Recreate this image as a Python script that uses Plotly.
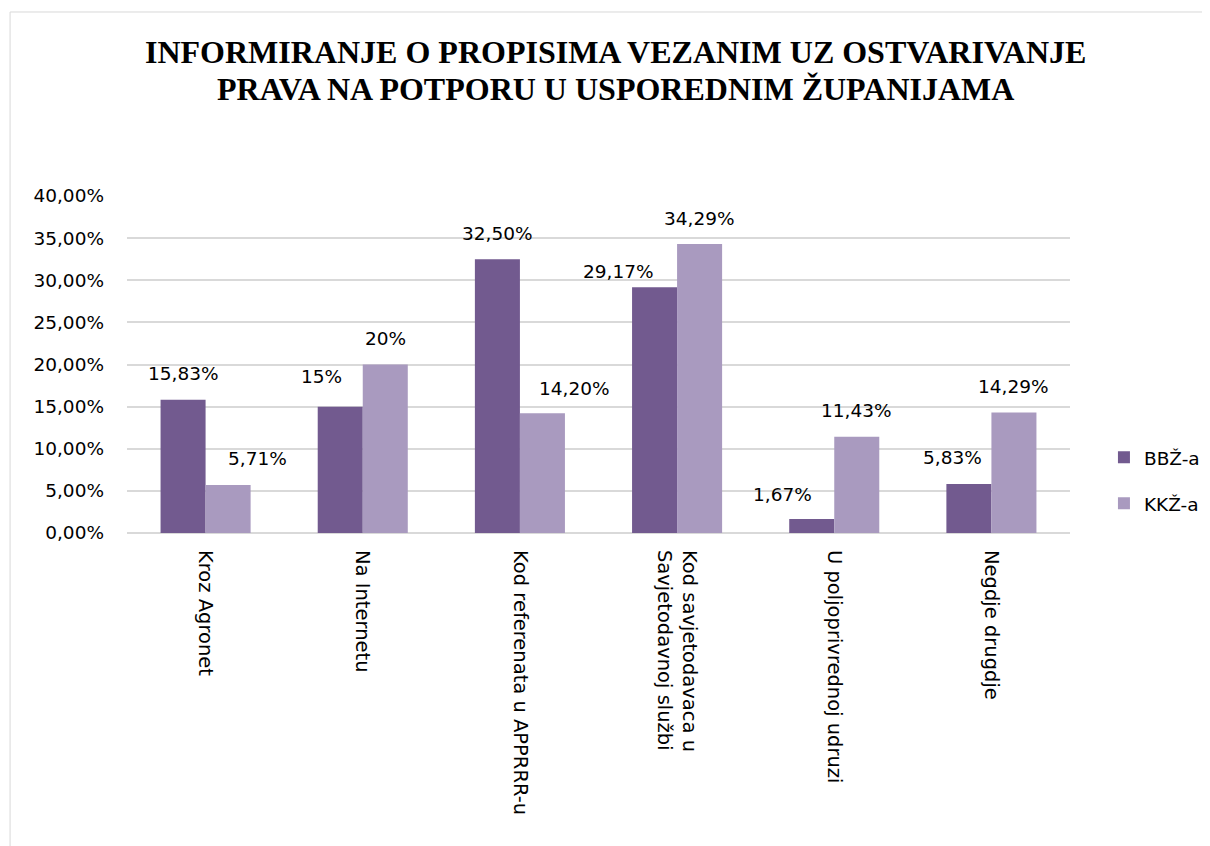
import plotly.graph_objects as go

categories = ["Kroz Agronet", "Na Internetu", "Kod referenata u APPRRR-u",
              "Kod savjetodavaca u<br>Savjetodavnoj službi",
              "U poljoprivrednoj udruzi", "Negdje drugdje"]
bbz_values = [0.1583, 0.15, 0.325, 0.2917, 0.0167, 0.0583]
kkz_values = [0.0571, 0.20, 0.142, 0.3429, 0.1143, 0.1429]
bbz_labels = ["15,83%", "15%", "32,50%", "29,17%", "1,67%", "5,83%"]
kkz_labels = ["5,71%", "20%", "14,20%", "34,29%", "11,43%", "14,29%"]
tick_vals = [0, 0.05, 0.10, 0.15, 0.20, 0.25, 0.30, 0.35, 0.40]
tick_text = ["0,00%", "5,00%", "10,00%", "15,00%", "20,00%", "25,00%", "30,00%", "35,00%", "40,00%"]
series_names = ["BBŽ-a", "KKŽ-a"]
colors = ["#725A8F", "#A99ABF"]
title_lines = ["INFORMIRANJE O PROPISIMA VEZANIM UZ OSTVARIVANJE",
               "PRAVA NA POTPORU U USPOREDNIM ŽUPANIJAMA"]

# label placement nudges (pixels), mimicking the original's label layout
bbz_label_dx = [0, -19, 0, -36, -29, -16]
bbz_label_dy = [26, 30, 26, 16, 24, 26]
kkz_label_dx = [29, 0, 32, 0, 0, 0]
kkz_label_dy = [26, 26, 25, 26, 26, 26]

font_family = "DejaVu Sans, sans-serif"
FS = 18.5
FSX = 19.5

W, H = 1210, 846
margin = dict(l=119, r=148, t=188, b=321)
bargap = 0.427
plot_w = W - margin["l"] - margin["r"]
bar_w = plot_w / len(categories) * (1 - bargap) / 2

fig = go.Figure()
for name, vals, col in zip(series_names, [bbz_values, kkz_values], colors):
    fig.add_trace(go.Bar(
        name=name, x=categories, y=vals,
        marker=dict(color=col, line=dict(width=0)),
        legendgroup=name, hoverinfo="skip",
    ))

# data labels above bars
for j, (vals, labels, dxs, dys) in enumerate(zip(
        [bbz_values, kkz_values], [bbz_labels, kkz_labels],
        [bbz_label_dx, kkz_label_dx], [bbz_label_dy, kkz_label_dy])):
    shift = (j - 0.5) * bar_w
    for cat, v, lab, dx, dy in zip(categories, vals, labels, dxs, dys):
        fig.add_annotation(x=cat, y=v, text=lab, showarrow=False,
                           xshift=shift + dx, yshift=dy, yanchor="middle",
                           font=dict(size=FS, color="#000000", family=font_family))

# two-line title
for line, ypos in zip(title_lines, [1.427, 1.318]):
    fig.add_annotation(xref="paper", yref="paper", x=0.5175, y=ypos,
                       xanchor="center", yanchor="middle", showarrow=False,
                       text="<b>" + line + "</b>",
                       font=dict(family="Liberation Serif, serif", size=32, color="#000000"))

fig.update_layout(
    width=W, height=H,
    paper_bgcolor="white", plot_bgcolor="white",
    margin=margin,
    barmode="group", bargap=bargap, bargroupgap=0,
    font=dict(family=font_family, size=FS, color="#000000"),
    legend=dict(
        x=1.036, y=0.155, xanchor="left", yanchor="middle",
        font=dict(size=FS, color="#000000", family=font_family),
        tracegroupgap=19, traceorder="grouped",
    ),
)
fig.update_yaxes(
    range=[0, 0.40], tickvals=tick_vals, ticktext=tick_text,
    showgrid=True, gridcolor="#D9D9D9", gridwidth=1.5,
    zeroline=True, zerolinecolor="#D9D9D9", zerolinewidth=1.5,
    showline=False, ticks="", ticklabelstandoff=22,
    tickfont=dict(size=FS, color="#000000", family=font_family),
)
fig.update_xaxes(
    tickangle=90, showline=False, ticks="", showgrid=False,
    ticklabelstandoff=16,
    tickfont=dict(size=FSX, color="#000000", family=font_family),
)
fig.add_shape(type="rect", xref="paper", yref="paper",
              x0=-0.124, x1=1.2, y0=-1.2, y1=1.546,
              line=dict(color="#D9D9D9", width=1), layer="below")

fig.write_html("out.html")
